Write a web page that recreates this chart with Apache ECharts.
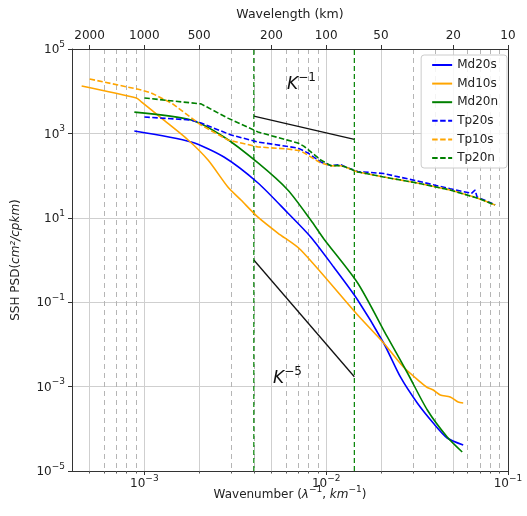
<!DOCTYPE html>
<html><head><meta charset="utf-8">
<script src="https://cdn.jsdelivr.net/npm/echarts@6/dist/echarts.min.js"></script>
<style>html,body{margin:0;padding:0;background:#fff}#c{width:527px;height:516px}</style>
</head><body><div id="c"></div>
<script>
// ---- data (wavenumber in cpkm, PSD in cm^2/cpkm) ----
const md20sK = [8.81e-4, 1.81e-3, 2.74e-3, 4.22e-3, 6.15e-3, 8.22e-3, 1.10e-2, 1.49e-2, 2.07e-2, 2.56e-2, 3.17e-2, 3.88e-2, 4.63e-2, 5.67e-2];
const md20sP = [1140, 625, 276, 66.8, 13.0, 3.51, 0.682, 0.113, 0.0108, 1.69e-3, 4.09e-4, 1.37e-4, 6.05e-5, 4.13e-5];

const md10sK = [4.52e-4, 9.04e-4, 9.63e-4, 1.24e-3, 1.74e-3, 2.24e-3, 2.88e-3, 3.40e-3, 4.2e-3, 5.42e-3, 7.25e-3, 1.49e-2, 2.07e-2, 2.66e-2, 3.30e-2, 3.60e-2, 3.88e-2, 4.24e-2, 4.81e-2, 5.32e-2, 5.67e-2];
const md10sP = [1.33e4, 6900, 5600, 2300, 698, 234, 53.7, 26.4, 10.5, 4.36, 1.73, 0.0497, 0.0108, 2.91e-3, 1.28e-3, 9.5e-4, 8.3e-4, 6.3e-4, 5.7e-4, 4.3e-4, 4.1e-4];

const md20nK = [8.81e-4, 1.81e-3, 2.74e-3, 4.22e-3, 6.15e-3, 8.22e-3, 9.69e-3, 1.49e-2, 2.17e-2, 2.80e-2, 3.60e-2, 4.63e-2, 5.60e-2];
const md20nP = [3200, 2080, 822, 199, 45.6, 8.87, 3.2, 0.285, 0.0150, 2.10e-3, 2.79e-4, 6.39e-5, 2.82e-5];

const tp20sK = [1.0e-3, 1.81e-3, 2.05e-3, 3.0e-3, 4.22e-3, 6.98e-3, 7.93e-3, 9.33e-3, 1.06e-2, 1.20e-2, 1.28e-2, 1.49e-2, 2.07e-2, 3.17e-2, 4.81e-2, 6.30e-2, 6.59e-2, 6.76e-2, 8.49e-2];
const tp20sP = [2450, 2080, 1760, 916, 625, 451, 344, 210, 172, 182, 160, 125, 112, 74.5, 48.7, 38, 45.6, 31, 20.5];

const tp10sK = [5.0e-4, 9.63e-4, 1.09e-3, 1.41e-3, 2.05e-3, 2.88e-3, 4.22e-3, 6.15e-3, 7.25e-3, 9.33e-3, 1.06e-2, 1.20e-2, 1.28e-2, 1.49e-2, 2.07e-2, 3.17e-2, 4.81e-2, 6.76e-2, 8.49e-2];
const tp10sP = [1.95e4, 1.07e4, 9100, 5250, 1580, 698, 477, 427, 385, 199, 170, 172, 158, 122, 92.7, 66.8, 45.6, 29.5, 20.1];

const tp20nK = [1.0e-3, 2.05e-3, 2.88e-3, 4.22e-3, 6.98e-3, 7.52e-3, 9.33e-3, 1.06e-2, 1.20e-2, 1.28e-2, 1.49e-2, 2.07e-2, 3.17e-2, 4.81e-2, 6.76e-2, 8.49e-2];
const tp20nP = [6900, 5000, 2300, 1080, 593, 500, 234, 172, 172, 160, 122, 92.7, 66.8, 45.6, 29.5, 20.1];

// reference slopes (two end points each)
const kMinus1K = [0.004, 1 / 70];
const kMinus1P = [2583, 723];
const kMinus5K = [0.004, 1 / 70];
const kMinus5P = [1.0, 1.71e-3];

// vertical marker wavelengths (km)
const markerWavelengths = [250, 70];

// tick definitions
const xMajorTicks = [1e-3, 1e-2, 1e-1];
const xMinorMantissas = [2, 3, 4, 5, 6, 7, 8, 9];
const xMinorDecades = [1e-4, 1e-3, 1e-2];
const yTicks = [1e-5, 1e-3, 1e-1, 1e1, 1e3, 1e5];
const wavelengthTicks = [2000, 1000, 500, 200, 100, 50, 20, 10];

const legendNames = ['Md20s', 'Md10s', 'Md20n', 'Tp20s', 'Tp10s', 'Tp20n'];

// ---- build ----
const FONT = 'DejaVu Sans';
const TXT = '#222';
const BLUE = '#0000ff', ORANGE = '#ffa500', GREEN = '#008000';
const zip = (a, b) => a.map((v, i) => [v, b[i]]);
const xMin = 4e-4, xMax = 0.1, yMin = 1e-5, yMax = 1e5;
const xMinor = [];
xMinorDecades.forEach(d => xMinorMantissas.forEach(m => { const v = m * d; if (v > xMin && v < xMax) xMinor.push(v); }));
const topTicks = wavelengthTicks.map(w => 1 / w);

function powLabel(v) {
  const e = Math.round(Math.log10(v));
  return '{b|10}{s|' + (e < 0 ? '\u2212' : '') + Math.abs(e) + '}';
}
const powRich = {
  b: { fontSize: 12, fontFamily: FONT, color: TXT, lineHeight: 14, verticalAlign: 'bottom' },
  s: { fontSize: 9, fontFamily: FONT, color: TXT, lineHeight: 11, padding: [0, 0, 7, 0], verticalAlign: 'bottom' }
};
const axisLineStyle = { color: '#333', width: 1 };

const SOLID_ICON = 'path://M0,0H20V2H0Z';
const DASH_ICON = 'path://M0,0H5.5V2H0Z M8,0H13.5V2H8Z M16,0H20V2H16Z';

const seriesDefs = [
  { name: legendNames[0], k: md20sK, p: md20sP, color: BLUE, dashed: false },
  { name: legendNames[1], k: md10sK, p: md10sP, color: ORANGE, dashed: false },
  { name: legendNames[2], k: md20nK, p: md20nP, color: GREEN, dashed: false },
  { name: legendNames[3], k: tp20sK, p: tp20sP, color: BLUE, dashed: true },
  { name: legendNames[4], k: tp10sK, p: tp10sP, color: ORANGE, dashed: true },
  { name: legendNames[5], k: tp20nK, p: tp20nP, color: GREEN, dashed: true }
];

const series = seriesDefs.map(d => ({
  name: d.name, type: 'line', data: zip(d.k, d.p), showSymbol: false, symbol: 'none',
  xAxisIndex: 0, yAxisIndex: 0, z: 3, smooth: d.dashed ? false : 0.25,
  lineStyle: { color: d.color, width: 1.6, type: d.dashed ? [5.5, 2.4] : 'solid' },
  itemStyle: { color: d.color },
  emphasis: { disabled: true }
}));

series.push(
  {
    name: 'k-1', type: 'line', data: zip(kMinus1K, kMinus1P), showSymbol: false, symbol: 'none', z: 2,
    lineStyle: { color: '#111', width: 1.3 }, emphasis: { disabled: true }
  },
  {
    name: 'k-5', type: 'line', data: zip(kMinus5K, kMinus5P), showSymbol: false, symbol: 'none', z: 2,
    lineStyle: { color: '#111', width: 1.3 }, emphasis: { disabled: true }
  }
);
markerWavelengths.forEach((w, i) => series.push({
  name: 'marker' + i, type: 'line', data: [[1 / w, yMin], [1 / w, yMax]], showSymbol: false, symbol: 'none', z: 2,
  lineStyle: { color: GREEN, width: 1.2, type: [5, 3] }, emphasis: { disabled: true }
}));

const option = {
  animation: false,
  backgroundColor: '#fff',
  textStyle: { fontFamily: FONT },
  grid: { left: 72, right: 19, top: 49, bottom: 45, containLabel: false },
  xAxis: [
    {
      type: 'log', logBase: 10, min: xMin, max: xMax, position: 'bottom',
      name: '{n|Wavenumber (}{i|\u03bb}{s|\u22121}{n|, }{i|km}{s|\u22121}{n|)}',
      nameLocation: 'middle', nameGap: 16, nameMoveOverlap: false,
      nameTextStyle: {
        rich: {
          n: { fontSize: 12, fontFamily: FONT, color: TXT, lineHeight: 14, verticalAlign: 'bottom' },
          i: { fontSize: 12, fontFamily: FONT, fontStyle: 'italic', color: TXT, lineHeight: 14, verticalAlign: 'bottom' },
          s: { fontSize: 9, fontFamily: FONT, color: TXT, lineHeight: 11, padding: [0, 0, 7, 0], verticalAlign: 'bottom' }
        }
      },
      axisLine: { show: true, lineStyle: axisLineStyle },
      axisTick: { show: true, inside: false, length: 4, customValues: xMajorTicks, lineStyle: { color: '#333' } },
      axisLabel: { customValues: xMajorTicks, formatter: powLabel, rich: powRich, margin: 5 },
      splitLine: { show: true, lineStyle: { color: '#cfcfcf', width: 1 } },
      minorTick: { show: false }, minorSplitLine: { show: false }
    },
    {
      type: 'log', logBase: 10, min: xMin, max: xMax, position: 'bottom',
      axisLine: { show: false },
      axisTick: { show: true, inside: false, length: 2.5, customValues: xMinor, lineStyle: { color: '#555' } },
      axisLabel: { show: false },
      splitLine: { show: true, lineStyle: { color: '#b5b5b5', width: 1, type: [5, 4] } }
    },
    {
      type: 'log', logBase: 10, min: xMin, max: xMax, position: 'top',
      name: 'Wavelength (km)', nameLocation: 'middle', nameGap: 28, nameMoveOverlap: false,
      nameTextStyle: { fontSize: 12.5, fontFamily: FONT, color: TXT },
      axisLine: { show: true, lineStyle: axisLineStyle },
      axisTick: { show: true, inside: false, length: 4, customValues: topTicks, lineStyle: { color: '#333' } },
      axisLabel: { customValues: topTicks, formatter: v => String(Math.round(1 / v)), fontSize: 12, fontFamily: FONT, color: TXT, margin: 7 },
      splitLine: { show: true, lineStyle: { color: '#cfcfcf', width: 1 } }
    }
  ],
  yAxis: [
    {
      type: 'log', logBase: 10, min: yMin, max: yMax, position: 'left',
      name: '{n|SSH PSD(}{i|cm\u00b2/cpkm}{n|)}', nameLocation: 'middle', nameGap: 50,
      nameTextStyle: {
        rich: {
          n: { fontSize: 12, fontFamily: FONT, color: TXT },
          i: { fontSize: 12, fontFamily: FONT, fontStyle: 'italic', color: TXT }
        }
      },
      axisLine: { show: true, lineStyle: axisLineStyle },
      axisTick: { show: true, inside: false, length: 4, customValues: yTicks, lineStyle: { color: '#333' } },
      axisLabel: { customValues: yTicks, formatter: powLabel, rich: powRich, margin: 7 },
      splitLine: { show: true, lineStyle: { color: '#cfcfcf', width: 1 } }
    },
    {
      type: 'log', logBase: 10, min: yMin, max: yMax, position: 'right',
      axisLine: { show: true, lineStyle: axisLineStyle },
      axisTick: { show: false }, axisLabel: { show: false }, splitLine: { show: false }
    }
  ],
  legend: {
    data: seriesDefs.map(d => ({ name: d.name, icon: d.dashed ? DASH_ICON : SOLID_ICON })),
    orient: 'vertical', right: 20, top: 55,
    itemWidth: 20, itemHeight: 2, itemGap: 4.6,
    padding: [3, 9, 3, 11],
    backgroundColor: 'rgba(255,255,255,0.85)', borderColor: '#cccccc', borderWidth: 1, borderRadius: 3,
    textStyle: { fontSize: 12, fontFamily: FONT, color: TXT, lineHeight: 14 },
    selectedMode: false
  },
  graphic: [
    {
      type: 'text', left: 287, top: 72, z: 10,
      style: {
        text: '{k|K}{s|\u22121}',
        rich: {
          k: { fontSize: 17, fontFamily: FONT, fontStyle: 'italic', fill: '#111', lineHeight: 20, verticalAlign: 'bottom' },
          s: { fontSize: 12, fontFamily: FONT, fill: '#111', lineHeight: 14, padding: [0, 0, 9, 0], verticalAlign: 'bottom' }
        }
      }
    },
    {
      type: 'text', left: 273, top: 366, z: 10,
      style: {
        text: '{k|K}{s|\u22125}',
        rich: {
          k: { fontSize: 17, fontFamily: FONT, fontStyle: 'italic', fill: '#111', lineHeight: 20, verticalAlign: 'bottom' },
          s: { fontSize: 12, fontFamily: FONT, fill: '#111', lineHeight: 14, padding: [0, 0, 9, 0], verticalAlign: 'bottom' }
        }
      }
    }
  ],
  series
};

const chart = echarts.init(document.getElementById('c'), null, { renderer: 'canvas' });
chart.setOption(option);
</script>
</body></html>
